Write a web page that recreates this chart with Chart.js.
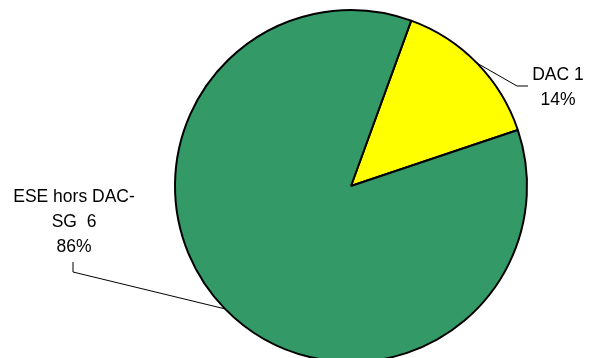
<!DOCTYPE html>
<html lang="fr">
<head>
<meta charset="UTF-8">
<title>Répartition</title>
<script src="https://cdn.jsdelivr.net/npm/chart.js"></script>
<style>
  html, body { margin: 0; padding: 0; background: #fff; overflow: hidden; }
  .frame { width: 589px; height: 358px; overflow: hidden; position: relative; }
  .box { width: 589px; height: 372px; position: absolute; left: 0; top: 0; }
</style>
</head>
<body>
<div class="frame">
  <div class="box"><canvas id="pie"></canvas></div>
</div>
<script>
// data
const labels = ["DAC 1", "ESE hors DAC-SG  6"];
const labelLines = [["DAC 1"], ["ESE hors DAC-", "SG  6"]];
const values = [1, 6];
const colors = ["#FFFF00", "#339966"];

// label placement: [line end x, y], [elbow x, y], text center x, first baseline
const labelSpots = [
  { elbow: [517, 86], end: [528, 86], cx: 558, y0: 80 },
  { elbow: [73, 272], end: [73, 262], cx: 74, y0: 202 }
];

const total = values.reduce((a, b) => a + b, 0);

const pieLabels = {
  id: "pieLabels",
  afterDraw(chart) {
    const ctx = chart.ctx;
    const meta = chart.getDatasetMeta(0);
    ctx.save();
    ctx.strokeStyle = "#000";
    ctx.lineWidth = 1;
    ctx.fillStyle = "#000";
    ctx.font = "17.5px 'Liberation Sans', Arial, sans-serif";
    ctx.textAlign = "center";
    ctx.textBaseline = "alphabetic";
    meta.data.forEach((arc, i) => {
      const mid = (arc.startAngle + arc.endAngle) / 2;
      const sx = arc.x + Math.cos(mid) * arc.outerRadius;
      const sy = arc.y + Math.sin(mid) * arc.outerRadius;
      const spot = labelSpots[i];
      ctx.beginPath();
      ctx.moveTo(sx, sy);
      ctx.lineTo(spot.elbow[0], spot.elbow[1]);
      ctx.lineTo(spot.end[0], spot.end[1]);
      ctx.stroke();
      const lines = labelLines[i].concat([Math.round(values[i] / total * 100) + "%"]);
      lines.forEach((t, k) => ctx.fillText(t, spot.cx, spot.y0 + k * 25));
    });
    ctx.restore();
  }
};

new Chart(document.getElementById("pie"), {
  type: "pie",
  data: {
    labels: labels,
    datasets: [{
      data: values,
      backgroundColor: colors,
      borderColor: "#000",
      borderWidth: 2
    }]
  },
  options: {
    responsive: true,
    maintainAspectRatio: false,
    animation: false,
    rotation: 20,
    layout: { padding: { left: 174, right: 61, top: 9, bottom: 9 } },
    plugins: { legend: { display: false }, tooltip: { enabled: false } }
  },
  plugins: [pieLabels]
});
</script>
</body>
</html>
